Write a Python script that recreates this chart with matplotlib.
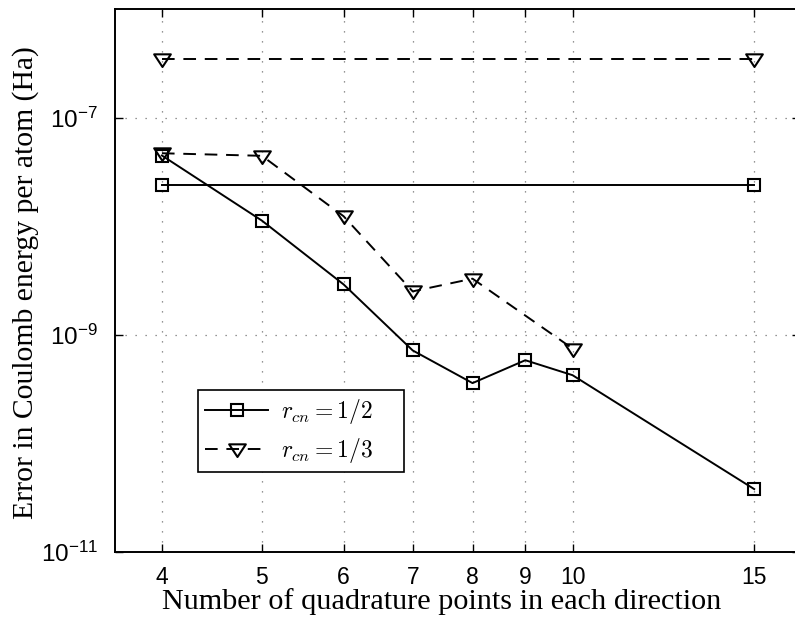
import matplotlib
matplotlib.use("Agg")
import matplotlib.pyplot as plt
from matplotlib.path import Path
from matplotlib.ticker import FixedLocator, FuncFormatter, NullLocator
import numpy as np

plt.rcParams['mathtext.fontset'] = 'cm'

# quadrature points per direction
n_half = [4, 5, 6, 7, 8, 9, 10, 15]
err_half = [4.5e-8, 1.13e-8, 2.92e-9, 7.2e-10, 3.6e-10, 5.85e-10, 4.26e-10, 3.8e-11]
n_third = [4, 5, 6, 7, 8, 10]
err_third = [4.72e-8, 4.47e-8, 1.24e-8, 2.52e-9, 3.30e-9, 7.5e-10]

# reference levels (flat lines between 4 and 15)
n_ref = [4, 15]
ref_half = [2.43e-8, 2.43e-8]
ref_third = [3.49e-7, 3.49e-7]

xticks = [4, 5, 6, 7, 8, 9, 10, 15]
yticks = [1e-11, 1e-9, 1e-7]

# slightly flattened downward triangle
tri = Path([(-1, 0.62), (1, 0.62), (0, -0.9), (-1, 0.62)],
           [Path.MOVETO, Path.LINETO, Path.LINETO, Path.CLOSEPOLY])

fig = plt.figure(figsize=(7.95, 6.17), dpi=100)
ax = fig.add_axes([0.1443, 0.1053, 0.8615, 0.8796])

lw = 1.4
sq = dict(marker='s', ms=8, mfc='none', mec='k', mew=1.5)
tr = dict(marker=tri, ms=12, mfc='none', mec='k', mew=1.5)
dash = (6.5, 4.5)

l1, = ax.plot(n_half, err_half, '-', color='k', lw=lw, label=r'$r_{cn} = 1/2$', **sq)
ax.plot(n_ref, ref_half, '-', color='k', lw=lw, **sq)
l2, = ax.plot(n_third, err_third, '--', color='k', lw=lw, dashes=dash,
              label=r'$r_{cn} = 1/3$', **tr)
ax.plot(n_ref, ref_third, '--', color='k', lw=lw, dashes=dash, **tr)

ax.set_xscale('log')
ax.set_yscale('log')
ax.set_xlim(3.6, 16.6)
ax.set_ylim(1e-11, 1e-6)

ax.xaxis.set_major_locator(FixedLocator(xticks))
ax.xaxis.set_minor_locator(NullLocator())
ax.xaxis.set_major_formatter(FuncFormatter(lambda v, p: '%d' % v))
ax.yaxis.set_major_locator(FixedLocator(yticks))
ax.yaxis.set_minor_locator(NullLocator())
ax.yaxis.set_major_formatter(FuncFormatter(
    lambda v, p: r'$\mathregular{10^{%d}}$' % int(round(np.log10(v)))))

ax.tick_params(which='major', direction='in', length=6, width=1.0,
               top=True, right=True, labelsize=16.5)
ax.tick_params(axis='x', pad=10)
ax.tick_params(axis='y', pad=12, labelsize=17.5)
for lab in ax.get_xticklabels() + ax.get_yticklabels():
    lab.set_fontfamily('Liberation Sans')

ax.grid(True, which='major', linestyle=(0, (1, 7)), color='0.45', linewidth=0.9)
for sp in ax.spines.values():
    sp.set_linewidth(1.4)

ax.set_xlabel('Number of quadrature points in each direction',
              family='Liberation Serif', fontsize=21.8)
ax.set_ylabel('Error in Coulomb energy per atom (Ha)',
              family='Liberation Serif', fontsize=21.3)
ax.xaxis.set_label_coords(0.477, -0.066)
ax.yaxis.set_label_coords(-0.110, 0.497)

leg = ax.legend(handles=[l1, l2], loc='lower left',
                bbox_to_anchor=(0.121, 0.147, 0.301, 0.15), mode='expand',
                borderaxespad=0, fancybox=False, edgecolor='k', framealpha=1,
                fontsize=17, handlelength=2.7, handletextpad=0.55,
                borderpad=0.3, labelspacing=0.42)
leg.get_frame().set_linewidth(1.2)

fig.savefig('out.png', dpi=100)
